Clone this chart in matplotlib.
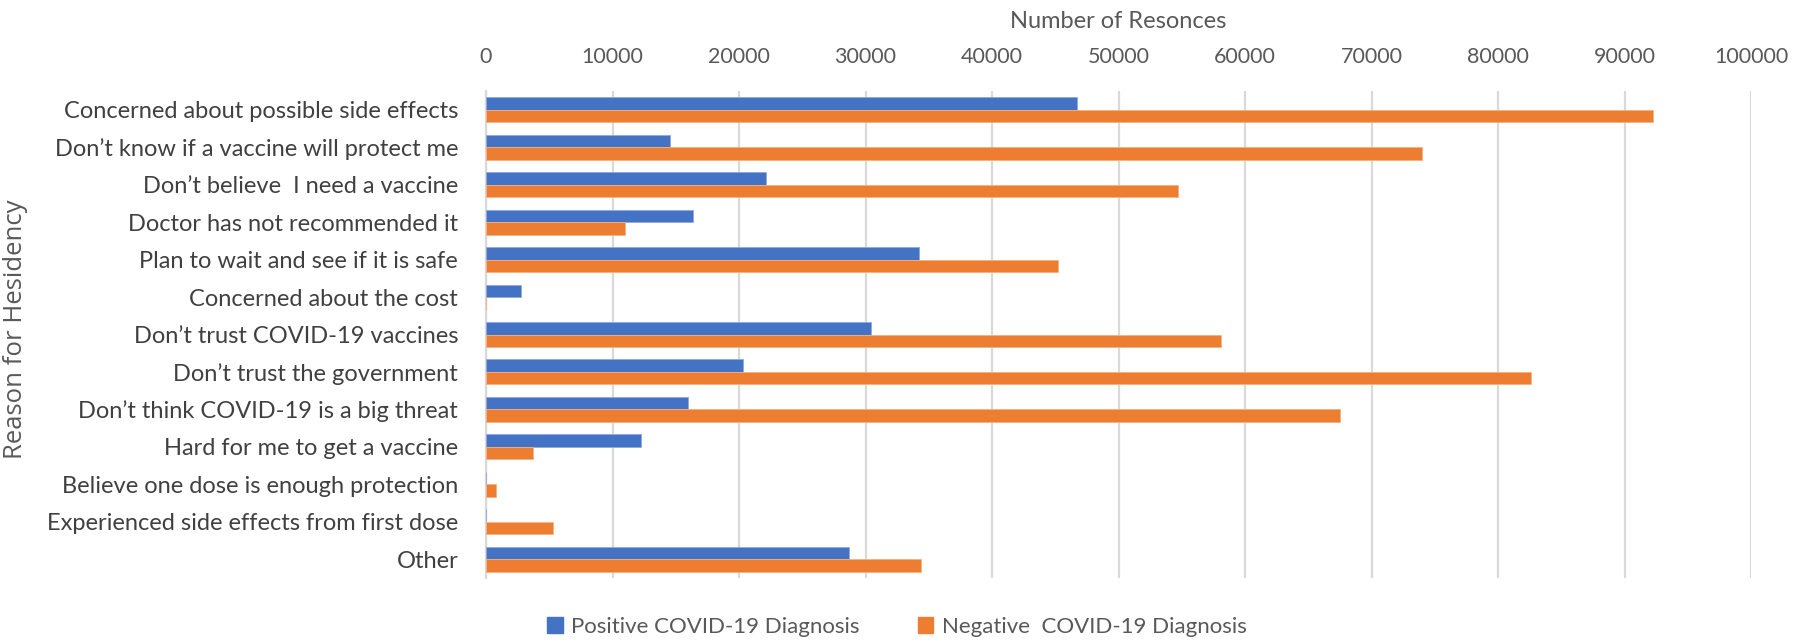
import matplotlib
matplotlib.use("Agg")
import matplotlib.pyplot as plt
from matplotlib.patches import Patch
import numpy as np

categories = [
    "Concerned about possible side effects",
    "Don\u2019t know if a vaccine will protect me",
    "Don\u2019t believe  I need a vaccine",
    "Doctor has not recommended it",
    "Plan to wait and see if it is safe",
    "Concerned about the cost",
    "Don\u2019t trust COVID-19 vaccines",
    "Don\u2019t trust the government",
    "Don\u2019t think COVID-19 is a big threat",
    "Hard for me to get a vaccine",
    "Believe one dose is enough protection",
    "Experienced side effects from first dose",
    "Other",
]
positive = [46700, 14550, 22170, 16390, 34250, 2800, 30430, 20310, 15970, 12290, 0, 0, 28670]
negative = [92280, 74020, 54680, 10960, 45190, 0, 58130, 82590, 67490, 3750, 820, 5300, 34420]
series_names = ["Positive COVID-19 Diagnosis", "Negative  COVID-19 Diagnosis"]
xticks = list(range(0, 100001, 10000))

BLUE = "#4472C4"
ORANGE = "#ED7D31"
GRID = "#D9D9D9"
TXT = "#595959"

plt.rcParams['font.family'] = ['Lato', 'DejaVu Sans']

fig = plt.figure(figsize=(18.10, 6.42), dpi=100)
ax = fig.add_axes([486/1810, 1-578/642, (1751-486)/1810, (578-91)/642])

y = np.arange(len(categories))
h = 0.333
ax.barh(y - h/2, positive, height=h, color=BLUE, edgecolor="#8FAADC", linewidth=0.6, zorder=3)
ax.barh(y + h/2, negative, height=h, color=ORANGE, edgecolor="#F4B183", linewidth=0.6, zorder=3)

ax.set_ylim(len(categories) - 0.5, -0.5)
ax.set_xlim(0, 100000)
ax.set_xticks(xticks)
ax.set_xticklabels([str(t) for t in xticks])
ax.xaxis.tick_top()
ax.xaxis.set_label_position('top')
ax.tick_params(axis='x', length=0, pad=17, labelsize=15.5, labelcolor=TXT)
ax.set_yticks(y)
ax.set_yticklabels(categories)
ax.tick_params(axis='y', length=0, pad=20, labelsize=17, labelcolor="#404040")

ax.grid(axis='x', color=GRID, linewidth=1.6, zorder=0)
for s in ['top', 'right', 'bottom']:
    ax.spines[s].set_visible(False)
ax.spines['left'].set_color(GRID)
ax.spines['left'].set_linewidth(1.6)

ax.set_xlabel("Number of Resonces", fontsize=17, color=TXT, labelpad=14)
fig.text(16/1810, 1-329/642, "Reason for Hesidency", rotation=90, fontsize=18.5,
         color=TXT, ha='center', va='center', family=['Open Sans', 'DejaVu Sans'])

handles = [Patch(facecolor=BLUE, edgecolor=BLUE), Patch(facecolor=ORANGE, edgecolor=ORANGE)]
fig.legend(handles, series_names, loc='center', bbox_to_anchor=(897/1810, 1-627/642),
           ncol=2, frameon=False, fontsize=16, labelcolor=TXT, handlelength=0.7,
           handleheight=0.7, handletextpad=0.4, columnspacing=2.6)

fig.savefig("out.png", dpi=100, facecolor="white")
